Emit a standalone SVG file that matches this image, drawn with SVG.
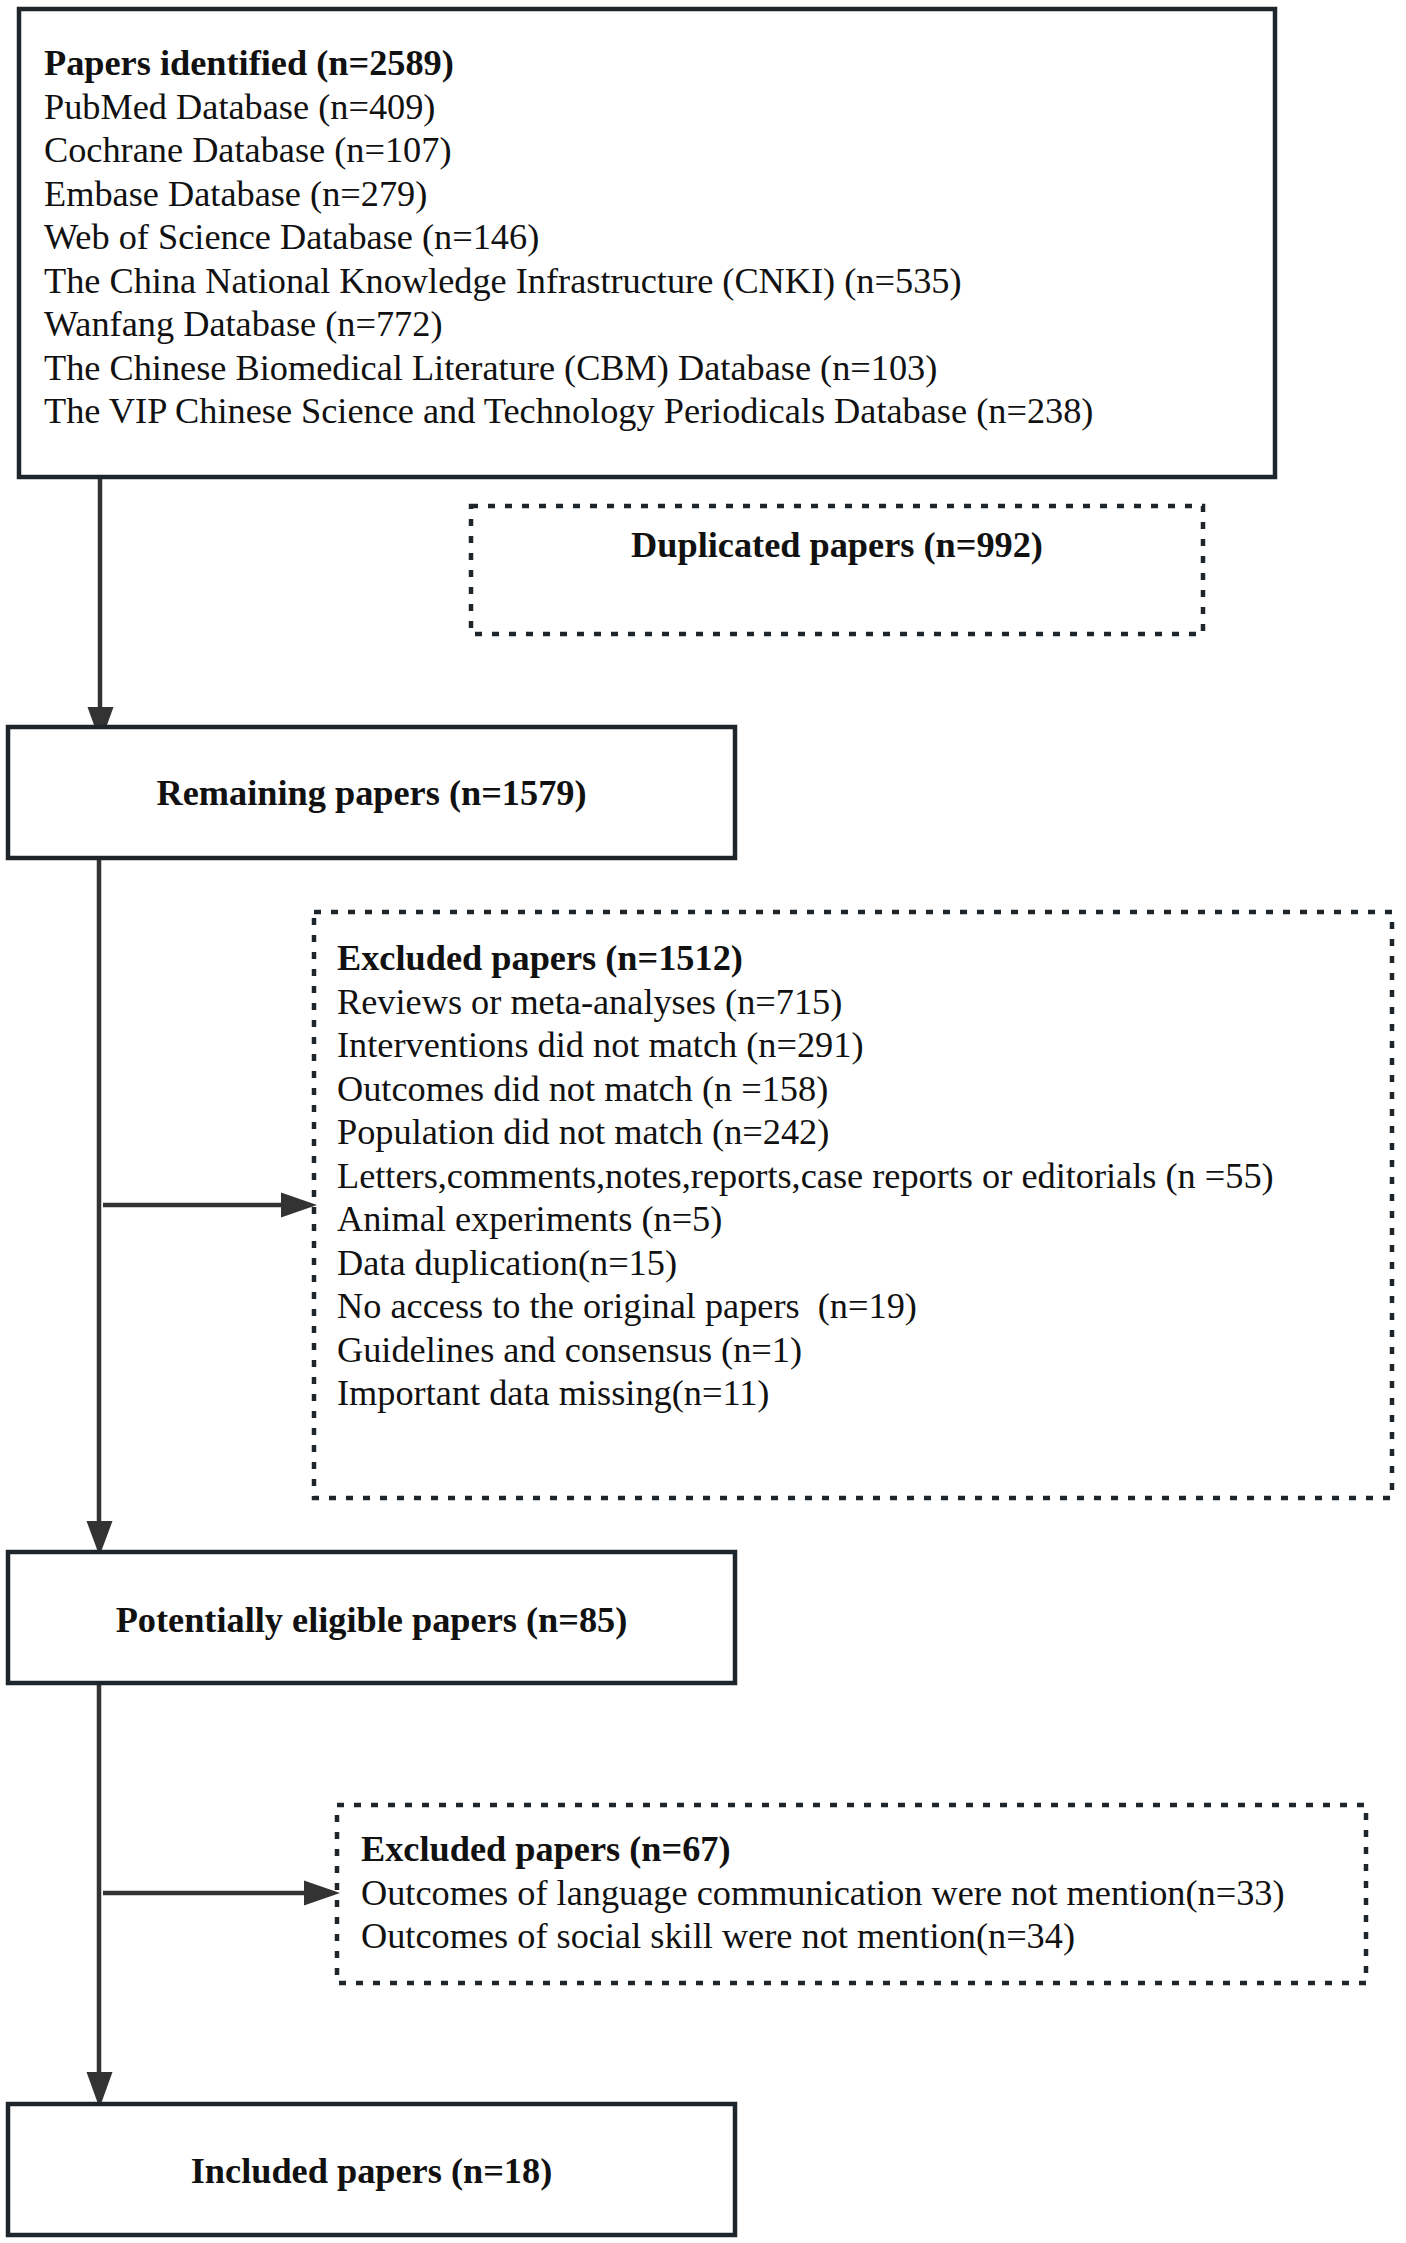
<svg xmlns="http://www.w3.org/2000/svg" width="1406" height="2243" viewBox="0 0 1406 2243">
<style>
.box{fill:#fff;stroke:#1e262c;stroke-width:4.5}
.dash{fill:none;stroke:#1e262c;stroke-width:4.5;stroke-dasharray:7 10}
.t{font-family:"Liberation Serif","Times New Roman",serif;font-size:36.3px;fill:#111}
.b{font-weight:bold}
.c{text-anchor:middle}
.ln{fill:none;stroke:#333;stroke-width:4.5}
.ah{fill:#333}
</style>
<rect width="1406" height="2243" fill="#fff"/>
<g id="connectors">
<line class="ln" x1="100" y1="477" x2="100" y2="712"/>
<polygon class="ah" points="87.5,707 113.5,707 100.5,743"/>
<line class="ln" x1="99" y1="858" x2="99" y2="1525"/>
<polygon class="ah" points="86.5,1521 112.5,1521 99.5,1556"/>
<line class="ln" x1="103" y1="1205" x2="285" y2="1205"/>
<polygon class="ah" points="281,1192.5 281,1217.5 317,1205"/>
<line class="ln" x1="99" y1="1683" x2="99" y2="2075"/>
<polygon class="ah" points="86.5,2072 112.5,2072 99.5,2108"/>
<line class="ln" x1="103" y1="1893" x2="308" y2="1893"/>
<polygon class="ah" points="304,1880.5 304,1905.5 340,1893"/>
</g>
<g id="identified">
<rect class="box" x="19" y="9" width="1256" height="468"/>
<text class="t b" x="44" y="75">Papers identified (n=2589)</text>
<text class="t" x="44" y="118.5">PubMed Database (n=409)</text>
<text class="t" x="44" y="162">Cochrane Database (n=107)</text>
<text class="t" x="44" y="205.5">Embase Database (n=279)</text>
<text class="t" x="44" y="249">Web of Science Database (n=146)</text>
<text class="t" x="44" y="292.5">The China National Knowledge Infrastructure (CNKI) (n=535)</text>
<text class="t" x="44" y="336">Wanfang Database (n=772)</text>
<text class="t" x="44" y="379.5">The Chinese Biomedical Literature (CBM) Database (n=103)</text>
<text class="t" x="44" y="423">The VIP Chinese Science and Technology Periodicals Database (n=238)</text>
</g>
<g id="duplicated">
<rect class="dash" x="471" y="506" width="732" height="128"/>
<text class="t b c" x="837" y="557">Duplicated papers (n=992)</text>
</g>
<g id="remaining">
<rect class="box" x="8" y="727" width="727" height="131"/>
<text class="t b c" x="371.5" y="805">Remaining papers (n=1579)</text>
</g>
<g id="excluded1">
<rect class="dash" x="314" y="912" width="1078" height="586"/>
<text class="t b" x="337" y="970">Excluded papers (n=1512)</text>
<text class="t" x="337" y="1013.5">Reviews or meta-analyses (n=715)</text>
<text class="t" x="337" y="1057">Interventions did not match (n=291)</text>
<text class="t" x="337" y="1100.5">Outcomes did not match (n =158)</text>
<text class="t" x="337" y="1144">Population did not match (n=242)</text>
<text class="t" x="337" y="1187.5">Letters,comments,notes,reports,case reports or editorials (n =55)</text>
<text class="t" x="337" y="1231">Animal experiments (n=5)</text>
<text class="t" x="337" y="1274.5">Data duplication(n=15)</text>
<text class="t" x="337" y="1318" xml:space="preserve">No access to the original papers  (n=19)</text>
<text class="t" x="337" y="1361.5">Guidelines and consensus (n=1)</text>
<text class="t" x="337" y="1405">Important data missing(n=11)</text>
</g>
<g id="eligible">
<rect class="box" x="8" y="1552" width="727" height="131"/>
<text class="t b c" x="371.5" y="1632">Potentially eligible papers (n=85)</text>
</g>
<g id="excluded2">
<rect class="dash" x="337" y="1805" width="1029" height="178"/>
<text class="t b" x="361" y="1861">Excluded papers (n=67)</text>
<text class="t" x="361" y="1905">Outcomes of language communication were not mention(n=33)</text>
<text class="t" x="361" y="1948">Outcomes of social skill were not mention(n=34)</text>
</g>
<g id="included">
<rect class="box" x="8" y="2104" width="727" height="131"/>
<text class="t b c" x="371.5" y="2183">Included papers (n=18)</text>
</g>
</svg>
